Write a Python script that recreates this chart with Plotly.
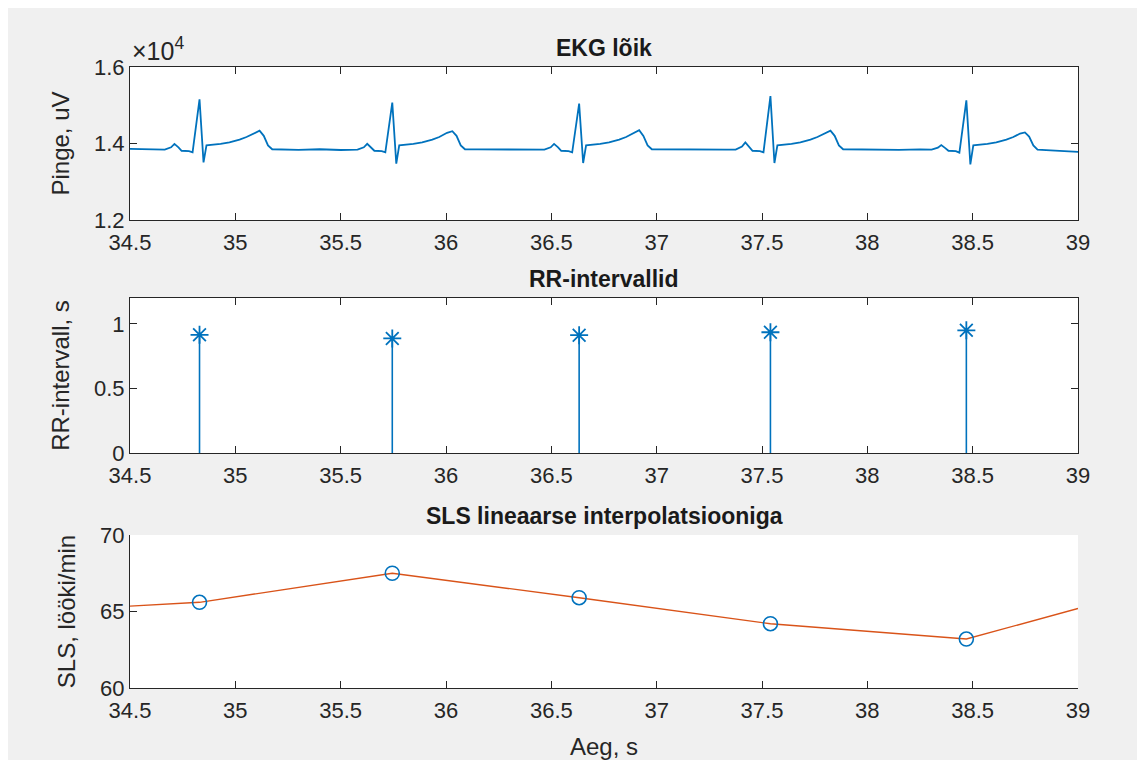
import plotly.graph_objects as go

# ---------------- data ----------------
# ECG trace (time in s, voltage in uV)
ecg_t = [
    34.500, 34.580, 34.630,
    34.665, 34.695, 34.711, 34.730, 34.745, 34.780, 34.797, 34.830, 34.849, 34.863,
    34.890, 34.930, 34.972, 35.020, 35.053, 35.090, 35.115, 35.135, 35.155, 35.175, 35.235,
    35.300, 35.400, 35.500,
    35.580, 35.610, 35.626, 35.645, 35.660, 35.695, 35.712, 35.745, 35.764, 35.778,
    35.805, 35.845, 35.887, 35.935, 35.968, 36.005, 36.030, 36.050, 36.070, 36.090, 36.150,
    36.250, 36.350, 36.420,
    36.467, 36.497, 36.513, 36.532, 36.547, 36.582, 36.599, 36.632, 36.651, 36.665,
    36.692, 36.732, 36.774, 36.822, 36.855, 36.892, 36.917, 36.937, 36.957, 36.977, 37.037,
    37.150, 37.250, 37.330,
    37.375, 37.405, 37.421, 37.440, 37.455, 37.490, 37.507, 37.540, 37.559, 37.573,
    37.600, 37.640, 37.682, 37.730, 37.763, 37.800, 37.825, 37.845, 37.865, 37.885, 37.945,
    38.050, 38.150, 38.250,
    38.305, 38.335, 38.351, 38.370, 38.385, 38.420, 38.437, 38.470, 38.489, 38.503,
    38.530, 38.570, 38.612, 38.660, 38.693, 38.725, 38.748, 38.768, 38.788, 38.808, 38.870,
    38.950, 39.000,
]
ecg_v = [
    13860, 13845, 13850,
    13840, 13900, 13990, 13900, 13810, 13800, 13770, 15156, 13506, 13950,
    13960, 13990, 14030, 14100, 14170, 14280, 14334, 14200, 13950, 13850, 13845,
    13835, 13850, 13830,
    13840, 13900, 13990, 13900, 13810, 13800, 13770, 15068, 13471, 13950,
    13960, 13990, 14030, 14100, 14170, 14280, 14320, 14200, 13950, 13850, 13845,
    13840, 13830, 13845,
    13840, 13900, 13990, 13900, 13810, 13800, 13770, 15042, 13490, 13950,
    13960, 13990, 14030, 14100, 14170, 14280, 14350, 14200, 13950, 13850, 13845,
    13850, 13835, 13840,
    13840, 13920, 14030, 13920, 13810, 13800, 13770, 15241, 13490, 13950,
    13960, 13990, 14030, 14100, 14170, 14280, 14334, 14200, 13950, 13850, 13845,
    13840, 13835, 13845,
    13840, 13890, 13960, 13880, 13810, 13800, 13760, 15130, 13453, 13950,
    13960, 13990, 14030, 14100, 14170, 14260, 14290, 14180, 13950, 13840, 13820,
    13800, 13780,
]

# R-peak times and RR intervals
r_times = [34.83, 35.745, 36.632, 37.54, 38.47]
rr_values = [0.915, 0.887, 0.912, 0.935, 0.950]

# heart rate (beats/min) and linear-interpolation curve
hr_values = [65.6, 67.5, 65.9, 64.2, 63.2]
interp_t = [34.5] + r_times + [39.0]
interp_v = [65.35] + hr_values + [65.2]

x_ticks = [34.5, 35, 35.5, 36, 36.5, 37, 37.5, 38, 38.5, 39]
x_tick_text = ["34.5", "35", "35.5", "36", "36.5", "37", "37.5", "38", "38.5", "39"]
ecg_ticks = [12000, 14000, 16000]
ecg_tick_text = ["1.2", "1.4", "1.6"]
rr_ticks = [0, 0.5, 1]
rr_tick_text = ["0", "0.5", "1"]
hr_ticks = [60, 65, 70]
hr_tick_text = ["60", "65", "70"]

titles = ["EKG lõik", "RR-intervallid", "SLS lineaarse interpolatsiooniga"]
y_titles = ["Pinge, uV", "RR-intervall, s", "SLS, lööki/min"]
x_title = "Aeg, s"

# ---------------- styling ----------------
BLUE = "#0072BD"
ORANGE = "#D95319"
AX = "#262626"
FONT = "Liberation Sans, Arial, Helvetica, sans-serif"
FS = 22      # tick labels
FT = 24      # axis titles

# the page body has an 8px margin, so the figure starts at (8, 8)
W, H = 1137, 752
ML, MR, MT, MB = 122, 67, 59, 72
plot_h = H - MT - MB


def ydom(top_px, bot_px):
    # pixel rows given in figure coordinates
    return [1 - (bot_px - MT) / plot_h, 1 - (top_px - MT) / plot_h]


doms = [ydom(59, 212), ydom(290, 445), ydom(527, 680)]

fig = go.Figure()

fig.add_trace(go.Scatter(x=ecg_t, y=ecg_v, mode="lines",
                         line=dict(color=BLUE, width=1.8), xaxis="x", yaxis="y",
                         showlegend=False, hoverinfo="skip"))

fig.add_trace(go.Scatter(x=r_times, y=rr_values, mode="markers",
                         marker=dict(symbol="asterisk-open", size=15,
                                     line=dict(color=BLUE, width=1.8), color=BLUE),
                         error_y=dict(type="data", symmetric=False,
                                      array=[0] * len(rr_values), arrayminus=rr_values,
                                      width=0, thickness=1.6, color=BLUE),
                         xaxis="x2", yaxis="y2", showlegend=False))

fig.add_trace(go.Scatter(x=interp_t, y=interp_v, mode="lines",
                         line=dict(color=ORANGE, width=1.4),
                         xaxis="x3", yaxis="y3", showlegend=False))
fig.add_trace(go.Scatter(x=r_times, y=hr_values, mode="markers",
                         marker=dict(symbol="circle-open", size=14,
                                     line=dict(color=BLUE, width=1.6), color=BLUE),
                         xaxis="x3", yaxis="y3", showlegend=False))

common_x = dict(range=[34.5, 39], tickvals=x_ticks, ticktext=x_tick_text,
                ticks="inside", ticklen=7, tickcolor=AX, tickwidth=1,
                showline=True, linecolor=AX, linewidth=1, showgrid=False,
                zeroline=False, ticklabelstandoff=3,
                tickfont=dict(family=FONT, size=FS, color=AX))
common_y = dict(ticks="inside", ticklen=7, tickcolor=AX, tickwidth=1,
                showline=True, linecolor=AX, linewidth=1, showgrid=False,
                zeroline=False, tickfont=dict(family=FONT, size=FS, color=AX))
tfont = dict(family=FONT, size=FT, color=AX)

fig.update_layout(
    width=W, height=H,
    margin=dict(l=ML, r=MR, t=MT, b=MB, autoexpand=False),
    paper_bgcolor="#F0F0F0", plot_bgcolor="#FFFFFF",
    font=dict(family=FONT, size=FS, color=AX),
    showlegend=False,
    xaxis=dict(common_x, domain=[0, 1], anchor="y", mirror="ticks"),
    yaxis=dict(common_y, domain=doms[0], anchor="x", range=[12000, 16000],
               tickvals=ecg_ticks, ticktext=ecg_tick_text, mirror="ticks",
               title=dict(text=y_titles[0], standoff=17, font=tfont)),
    xaxis2=dict(common_x, domain=[0, 1], anchor="y2", mirror="ticks"),
    yaxis2=dict(common_y, domain=doms[1], anchor="x2", range=[0, 1.2],
                tickvals=rr_ticks, ticktext=rr_tick_text, mirror="ticks",
                title=dict(text=y_titles[1], standoff=17, font=tfont)),
    xaxis3=dict(common_x, domain=[0, 1], anchor="y3", mirror=False,
                title=dict(text=x_title, standoff=22, font=tfont)),
    yaxis3=dict(common_y, domain=doms[2], anchor="x3", range=[60, 70],
                tickvals=hr_ticks, ticktext=hr_tick_text, mirror=False,
                title=dict(text=y_titles[2], standoff=17, font=tfont)),
)

# subplot titles
for i, t in enumerate(titles):
    fig.add_annotation(text="<b>" + t + "</b>", xref="paper", yref="paper",
                       x=0.5, y=doms[i][1], xanchor="center", yanchor="bottom",
                       yshift=4, showarrow=False,
                       font=dict(family=FONT, size=23, color="#1A1A1A"))

# exponent label of the ECG axis
fig.add_annotation(text="×10<sup>4</sup>", xref="paper", yref="paper",
                   x=0, y=doms[0][1], xanchor="left", yanchor="bottom",
                   yshift=0, showarrow=False,
                   font=dict(family=FONT, size=25, color=AX))

fig.write_html("out.html")
